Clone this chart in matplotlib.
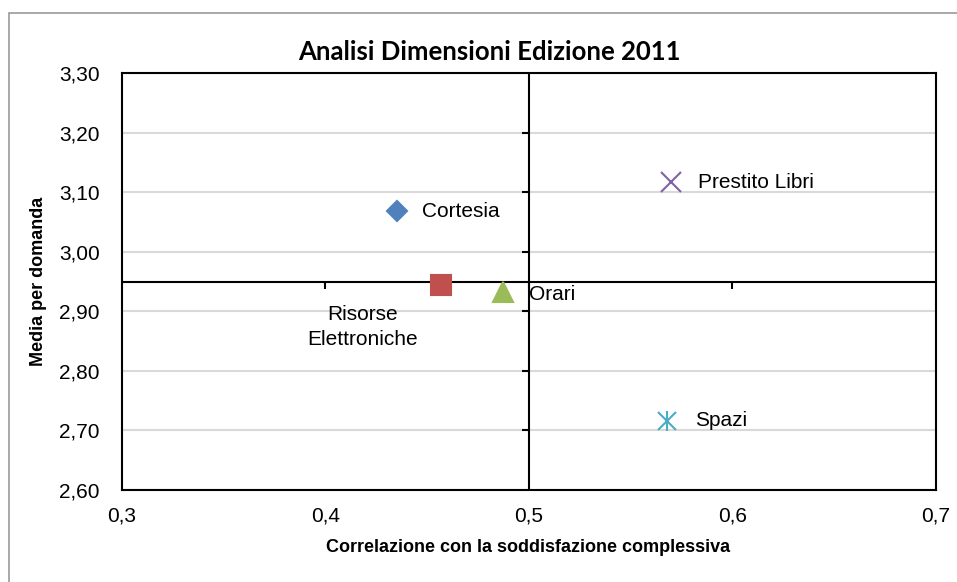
import matplotlib
matplotlib.use('Agg')
import matplotlib.pyplot as plt
from matplotlib.markers import TICKLEFT, TICKDOWN
from matplotlib.patches import Rectangle

# dati
labels = ['Cortesia', 'Risorse\nElettroniche', 'Orari', 'Prestito Libri', 'Spazi']
corr = [0.435, 0.457, 0.487, 0.570, 0.568]
media = [3.068, 2.944, 2.933, 3.117, 2.716]
x_ticks = [0.3, 0.4, 0.5, 0.6, 0.7]
y_ticks = [2.60, 2.70, 2.80, 2.90, 3.00, 3.10, 3.20, 3.30]
x_cross = 0.5
y_cross = 2.95

colors = ['#4F81BD', '#C0504D', '#9BBB59', '#8064A2', '#4BACC6']
markers = ['D', 's', '^', 'x', 'x']
sizes = [10.5, 15, 15, 14, 13]
offsets = [(18, 0), (-57, -14), (19, -2), (19, 0), (20, 0)]
aligns = [('left', 'center'), ('center', 'top'), ('left', 'center'), ('left', 'center'), ('left', 'center')]

plt.rcParams['font.family'] = ['Liberation Sans', 'DejaVu Sans']

fig = plt.figure(figsize=(9.57, 5.82), dpi=100)
ax = fig.add_axes([0.1275, 0.158, 0.8505, 0.7166])

# bordo grafico
fig.patches.append(Rectangle((9 / 957, -0.1), 1.2, 1 - 13 / 582 + 0.1, transform=fig.transFigure,
                             fill=False, edgecolor='#9a9a9a', lw=1.2))

ax.set_xlim(0.3, 0.7)
ax.set_ylim(2.60, 3.30)
ax.set_xticks(x_ticks)
ax.set_yticks(y_ticks)
ax.set_xticklabels([f'{v:.1f}'.replace('.', ',') for v in x_ticks], fontsize=15)
ax.set_yticklabels([f'{v:.2f}'.replace('.', ',') for v in y_ticks], fontsize=15)
ax.tick_params(axis='both', length=0)
ax.tick_params(axis='x', pad=12)
ax.tick_params(axis='y', pad=16)
ax.grid(axis='y', color='#d9d9d9', lw=1.5)
ax.set_axisbelow(True)
for s in ax.spines.values():
    s.set_linewidth(1.5)

# assi incrociati
ax.axhline(y_cross, color='black', lw=1.5, zorder=2)
ax.axvline(x_cross, color='black', lw=1.5, zorder=2)
ax.plot([x_cross] * (len(y_ticks) - 2), y_ticks[1:-1], ls='none', marker=TICKLEFT,
        ms=5, mew=1.5, color='black', zorder=2)
ax.plot(x_ticks[1:-1], [y_cross] * (len(x_ticks) - 2), ls='none', marker=TICKDOWN,
        ms=5, mew=1.5, color='black', zorder=2)

for i in range(len(labels)):
    ax.plot(corr[i], media[i], ls='none', marker=markers[i], ms=sizes[i], color=colors[i],
            mew=1.5, zorder=3)
    if i == 4:
        ax.plot(corr[i], media[i], ls='none', marker='|', ms=sizes[i] * 1.1, color=colors[i],
                mew=1.5, zorder=3)
    ax.annotate(labels[i], (corr[i], media[i]), xytext=offsets[i], textcoords='offset points',
                ha=aligns[i][0], va=aligns[i][1], fontsize=15, multialignment='center',
                linespacing=1.45, zorder=4)

fig.text(0.511, 0.9107, 'Analisi Dimensioni Edizione 2011', ha='center', va='center',
         fontsize=18.5, fontweight='bold', family=['Lato', 'DejaVu Sans'])
fig.text(0.552, 1 - 548 / 582, 'Correlazione con la soddisfazione complessiva', ha='center',
         va='center', fontsize=13, fontweight='bold')
fig.text(0.040, 1 - 281 / 582, 'Media per domanda', ha='center', va='center', rotation=90,
         fontsize=13, fontweight='bold')

fig.savefig('out.png', dpi=100)
